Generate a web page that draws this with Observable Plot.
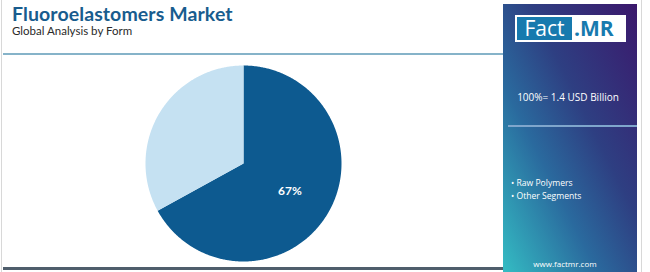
<!DOCTYPE html>
<html><head><meta charset="utf-8">
<script src="https://cdn.jsdelivr.net/npm/d3@7"></script>
<script src="https://cdn.jsdelivr.net/npm/@observablehq/plot@0.6"></script>
<style>
html,body{margin:0;padding:0;background:#fff;}
body{width:650px;height:272px;position:relative;overflow:hidden;font-family:"Open Sans",Lato,sans-serif;}
#frame{position:absolute;left:1px;top:0;width:641px;height:272px;border-left:1px solid #d8d8d8;border-right:1px solid #d8d8d8;box-sizing:border-box;}
#title{position:absolute;left:12px;top:2px;font:700 19.5px Lato,"Open Sans",sans-serif;color:#185c8e;letter-spacing:0.1px;white-space:nowrap;}
#subtitle{position:absolute;left:12px;top:24px;font:400 11.5px Lato,"Open Sans",sans-serif;color:#2a2a2a;white-space:nowrap;}
#hline{position:absolute;left:3px;top:53px;width:500px;height:2px;background:#86b3c9;}
#bline{position:absolute;left:3px;top:267px;width:500px;height:3px;background:#4f5e6c;}
#chart{position:absolute;left:143px;top:63px;}
#panel{position:absolute;left:503px;top:4px;width:134px;height:268px;background:linear-gradient(to bottom left,#3b186c 0%,#2e3f82 40%,#2a6a9e 65%,#34bcc3 100%);}
#logo{position:absolute;left:12px;top:11px;width:111px;height:27px;background:#fff;}
#logo .f{position:absolute;left:2px;top:2px;width:55px;height:23px;background:#177aae;color:#fff;font:400 21px "Open Sans",sans-serif;line-height:23px;text-align:center;}
#logo .m{position:absolute;left:59px;top:1px;color:#177aae;font:700 21px "Open Sans",sans-serif;line-height:25px;}
#total{position:absolute;left:0;top:86px;width:130px;text-align:center;color:#fff;font:400 10px "Open Sans",sans-serif;}
#pline{position:absolute;left:5px;top:121px;width:129px;height:2px;background:#7fa6cc;}
#legend{position:absolute;left:8px;top:173px;color:#fff;font:400 8.6px "Open Sans",sans-serif;line-height:13px;}
#url{position:absolute;left:0;top:254px;width:124px;text-align:center;color:#fff;font:400 8px "Open Sans",sans-serif;}
</style></head>
<body>
<div id="frame"></div>
<div id="title">Fluoroelastomers Market</div>
<div id="subtitle">Global Analysis by Form</div>
<div id="hline"></div>
<div id="bline"></div>
<div id="chart"></div>
<div id="panel">
  <div id="logo"><div class="f">Fact</div><div class="m">.MR</div></div>
  <div id="total"></div>
  <div id="pline"></div>
  <div id="legend"></div>
  <div id="url">www.factmr.com</div>
</div>
<script>
const categories = ["Raw Polymers", "Other Segments"];
const shares = [67, 33];
const colors = ["#0d5a90", "#c5e1f2"];
const labels = ["67%", ""];
const totalLabel = "100%= 1.4 USD Billion";

document.getElementById("total").textContent = totalLabel;
document.getElementById("legend").innerHTML = categories.map(c => "• " + c).join("<br>");

const arcs = d3.pie().sort(null).value(d => d)(shares);
const wedgePts = [];
arcs.forEach((a, i) => {
  const steps = Math.max(2, Math.ceil((a.endAngle - a.startAngle) / (Math.PI / 360)));
  wedgePts.push({cat: categories[i], x: 0, y: 0, k: 0});
  for (let s = 0; s <= steps; s++) {
    const t = a.startAngle + (a.endAngle - a.startAngle) * s / steps;
    wedgePts.push({cat: categories[i], x: Math.sin(t), y: Math.cos(t), k: s + 1});
  }
});
const labelPts = arcs.map((a, i) => {
  const m = (a.startAngle + a.endAngle) / 2;
  return {label: labels[i], x: 0.55 * Math.sin(m), y: 0.55 * Math.cos(m)};
});

const plot = Plot.plot({
  width: 200, height: 200,
  margin: 2,
  x: {domain: [-1, 1], axis: null},
  y: {domain: [-1, 1], axis: null},
  color: {domain: categories, range: colors},
  marks: [
    Plot.line(wedgePts, {x: "x", y: "y", z: "cat", fill: "cat", stroke: "none", curve: "linear"}),
    Plot.text(labelPts, {x: "x", y: "y", text: "label", fill: "white", fontSize: 12, fontWeight: "bold", fontFamily: "Lato, 'Open Sans', sans-serif"})
  ]
});
document.getElementById("chart").appendChild(plot);
</script>
</body></html>
